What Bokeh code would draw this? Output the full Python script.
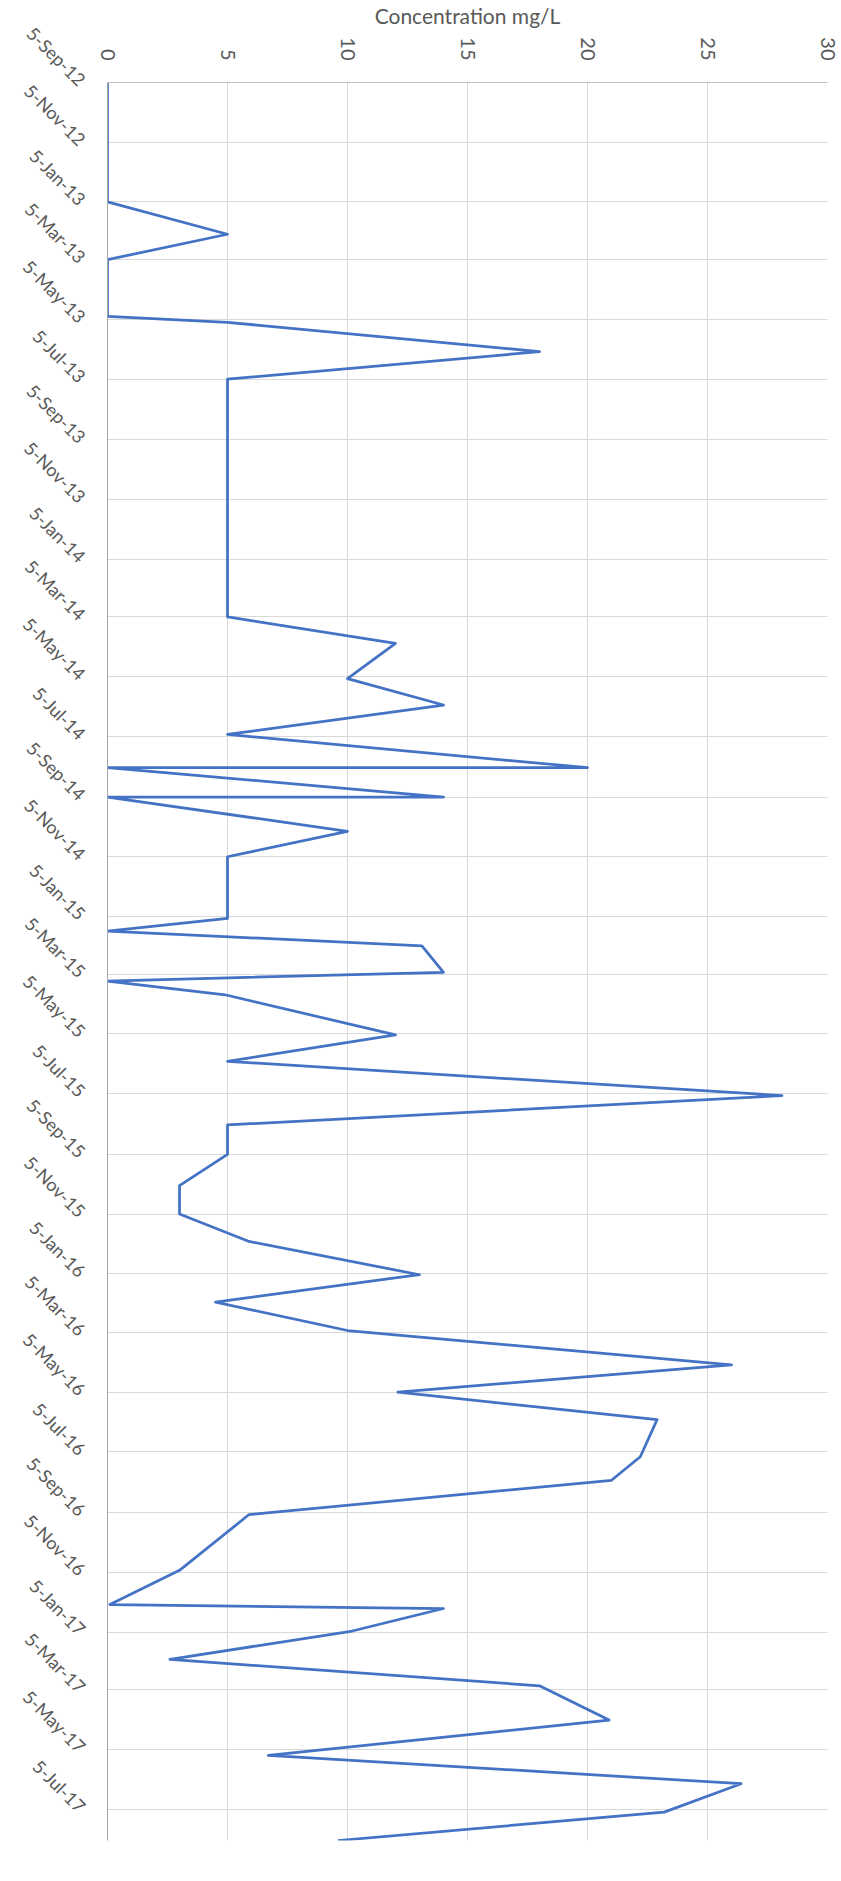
import math
import pandas as pd
from bokeh.plotting import figure
from bokeh.models import Range1d, FixedTicker
from bokeh.embed import file_html
from bokeh.resources import INLINE

# ---- data ----
sample_dates = [
    "2012-09-05", "2013-01-05", "2013-02-07", "2013-03-05", "2013-05-02",
    "2013-05-08", "2013-06-07", "2013-07-05", "2014-03-05", "2014-04-01",
    "2014-05-07", "2014-06-03", "2014-07-03", "2014-08-06", "2014-08-06",
    "2014-09-05", "2014-09-05", "2014-10-10", "2014-11-05", "2015-01-07",
    "2015-01-20", "2015-02-04", "2015-03-03", "2015-03-12", "2015-03-26",
    "2015-05-06", "2015-06-02", "2015-07-07", "2015-08-06", "2015-09-05",
    "2015-10-07", "2015-11-05", "2015-12-03", "2016-01-06", "2016-02-03",
    "2016-03-03", "2016-04-07", "2016-05-05", "2016-06-02", "2016-07-10",
    "2016-08-03", "2016-09-07", "2016-11-03", "2016-12-08", "2016-12-12",
    "2017-01-04", "2017-02-02", "2017-03-01", "2017-04-05", "2017-05-11",
    "2017-06-09", "2017-07-08", "2017-08-06",
]
concentration = [
    0, 0, 5, 0, 0,
    5, 18, 5, 5, 12,
    10, 14, 5, 20, 0,
    14, 0, 10, 5, 5,
    0, 13.1, 14, 0, 4.9,
    12, 5, 28.1, 5, 5,
    3, 3, 5.9, 13, 4.5,
    10, 26, 12.1, 22.9, 22.2,
    21, 5.9, 3, 0.1, 14,
    10.2, 2.6, 18, 20.9, 6.7,
    26.4, 23.2, 9.6,
]
date_ticks = [
    "2012-09-05", "2012-11-05", "2013-01-05", "2013-03-05", "2013-05-05",
    "2013-07-05", "2013-09-05", "2013-11-05", "2014-01-05", "2014-03-05",
    "2014-05-05", "2014-07-05", "2014-09-05", "2014-11-05", "2015-01-05",
    "2015-03-05", "2015-05-05", "2015-07-05", "2015-09-05", "2015-11-05",
    "2016-01-05", "2016-03-05", "2016-05-05", "2016-07-05", "2016-09-05",
    "2016-11-05", "2017-01-05", "2017-03-05", "2017-05-05", "2017-07-05",
]
date_tick_labels = [
    "5-Sep-12", "5-Nov-12", "5-Jan-13", "5-Mar-13", "5-May-13",
    "5-Jul-13", "5-Sep-13", "5-Nov-13", "5-Jan-14", "5-Mar-14",
    "5-May-14", "5-Jul-14", "5-Sep-14", "5-Nov-14", "5-Jan-15",
    "5-Mar-15", "5-May-15", "5-Jul-15", "5-Sep-15", "5-Nov-15",
    "5-Jan-16", "5-Mar-16", "5-May-16", "5-Jul-16", "5-Sep-16",
    "5-Nov-16", "5-Jan-17", "5-Mar-17", "5-May-17", "5-Jul-17",
]
value_ticks = [0, 5, 10, 15, 20, 25, 30]
axis_title = "Concentration mg/L"

# ---- chart ----
FONT = "Lato"
TEXT = "#595959"

dates = pd.to_datetime(sample_dates)
tick_ms = [int(pd.Timestamp(d).value // 10**6) for d in date_ticks]
start_ms = int(pd.Timestamp("2012-09-05").value // 10**6)
end_ms = int(pd.Timestamp(sample_dates[-1]).value // 10**6)

p = figure(
    width=841, height=1881,
    x_axis_location="above",
    y_axis_type="datetime",
    x_range=Range1d(0, 30),
    y_range=Range1d(end_ms, start_ms),
    output_backend="svg", toolbar_location=None,
    min_border_left=107, min_border_right=14,
    min_border_top=79, min_border_bottom=41,
)
p.background_fill_color = "white"
p.border_fill_color = "white"
p.outline_line_color = None

# value axis (top)
xa = p.xaxis[0]
xa.ticker = FixedTicker(ticks=value_ticks)
xa.major_label_orientation = -math.pi / 2
xa.major_label_text_font = FONT
xa.major_label_text_font_size = "20px"
xa.major_label_text_color = TEXT
xa.major_label_standoff = 16
xa.major_tick_line_color = None
xa.minor_tick_line_color = None
xa.axis_line_color = "#BFBFBF"
xa.axis_label = axis_title
xa.axis_label_text_font = FONT
xa.axis_label_text_font_size = "21px"
xa.axis_label_text_font_style = "normal"
xa.axis_label_text_color = TEXT
xa.axis_label_standoff = 6

# date axis (left)
ya = p.yaxis[0]
ya.ticker = FixedTicker(ticks=tick_ms)
ya.major_label_overrides = {t: lab for t, lab in zip(tick_ms, date_tick_labels)}
ya.major_label_orientation = -math.pi / 4
ya.major_label_text_font = FONT
ya.major_label_text_font_size = "18px"
ya.major_label_text_color = TEXT
ya.major_label_standoff = 19
ya.major_tick_line_color = None
ya.minor_tick_line_color = None
ya.axis_line_color = "#A6A6A6"

p.xgrid.ticker = FixedTicker(ticks=value_ticks)
p.ygrid.ticker = FixedTicker(ticks=tick_ms)
p.xgrid.grid_line_color = "#D9D9D9"
p.ygrid.grid_line_color = "#D9D9D9"

p.line(concentration, dates, line_color="#4472C4", line_width=2.75,
       line_join="round")

open("out.html", "w").write(file_html(p, INLINE))
